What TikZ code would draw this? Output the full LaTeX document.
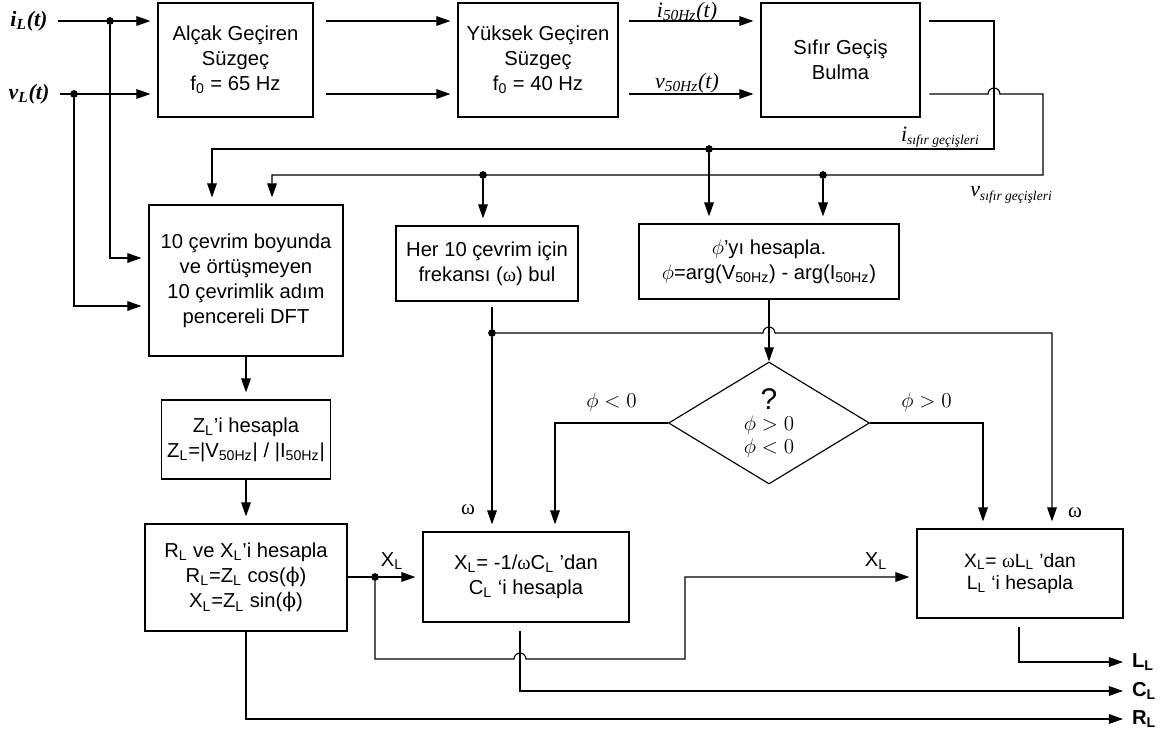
\documentclass[tikz,border=0pt]{standalone}
\usepackage{fontspec}
\setmainfont{Liberation Serif}
\setsansfont{Liberation Sans}
\newfontfamily\greekfnt{DejaVu Serif}
\usetikzlibrary{arrows.meta,shapes.geometric}
\tikzset{
  wire/.style={line width=0.65pt},
  blk/.style={draw, wire, align=center, inner sep=1pt,
    font=\sffamily\fontsize{11.5}{14.3}\selectfont},
  arr/.style={wire, -{Triangle[length=8pt,width=5.5pt]}, shorten >=4pt},
  junc/.style={circle, fill, inner sep=0pt, minimum size=4.4pt},
  inlbl/.style={font=\bfseries\itshape\fontsize{12.5}{14}\selectfont, inner sep=1pt},
  sig/.style={font=\itshape\fontsize{12.5}{14}\selectfont, inner sep=1pt},
  xlbl/.style={font=\sffamily\fontsize{11.5}{13}\selectfont, inner sep=1pt},
  wlbl/.style={font=\fontsize{12}{13}\selectfont, inner sep=1pt},
  mlbl/.style={font=\fontsize{12}{13}\selectfont, inner sep=1pt},
  outlbl/.style={font=\sffamily\bfseries\fontsize{11.5}{13}\selectfont, inner sep=1pt},
}
\newcommand{\sbs}[1]{\textsubscript{#1}}
\newcommand{\omg}{{\rmfamily ω}}
\newcommand{\phup}{{\greekfnt ϕ}}

\begin{document}
\begin{tikzpicture}[x=0.02cm, y=-0.02cm]
\useasboundingbox (0,0) rectangle (1163,737);

\node[blk, minimum width=3.1cm, minimum height=2.28cm] (lpf) at (235.5,60) {Alçak Geçiren\\Süzgeç\\f\sbs{0} = 65 Hz};
\node[blk, minimum width=3.2cm, minimum height=2.28cm] (hpf) at (538,60) {Yüksek Geçiren\\Süzgeç\\f\sbs{0} = 40 Hz};
\node[blk, minimum width=3.18cm, minimum height=2.28cm] (zcd) at (840.5,60) {Sıfır Geçiş\\Bulma};
\node[blk, minimum width=3.88cm, minimum height=3.02cm] (dft) at (246,280.5) {10 çevrim boyunda\\ve örtüşmeyen\\10 çevrimlik adım\\pencereli DFT};
\node[blk, minimum width=3.64cm, minimum height=1.5cm] (freq) at (487,263.5) {Her 10 çevrim için\\frekansı (\omg) bul};
\node[blk, minimum width=5.2cm, minimum height=1.5cm] (phase) at (769,261.5) {$\phi$’yı hesapla.\\$\phi$=arg(V\sbs{50Hz}) - arg(I\sbs{50Hz})};
\node[draw, wire, diamond, shape aspect=1.65, minimum width=4.02cm, minimum height=2.44cm, inner sep=0pt, align=center, font=\fontsize{12}{13}\selectfont] (cmp) at (769,423) {{\sffamily\fontsize{17}{17}\selectfont ?}\\[-1pt]$\phi>0$\\$\phi<0$};
\node[blk, minimum width=3.38cm, minimum height=1.58cm] (zl) at (246,439.5) {Z\sbs{L}’i hesapla\\Z\sbs{L}=|V\sbs{50Hz}| / |I\sbs{50Hz}|};
\node[blk, minimum width=4.04cm, minimum height=2.14cm] (rx) at (246,577.5) {R\sbs{L} ve X\sbs{L}’i hesapla\\R\sbs{L}=Z\sbs{L} cos(\phup)\\X\sbs{L}=Z\sbs{L} sin(\phup)};
\node[blk, minimum width=4.12cm, minimum height=1.8cm] (cl) at (526,577) {X\sbs{L}= -1/\omg C\sbs{L} ’dan\\C\sbs{L} ‘i hesapla};
\node[blk, minimum width=4.12cm, minimum height=1.78cm, font=\sffamily\fontsize{11}{13}\selectfont] (ll) at (1020,573.5) {X\sbs{L}= \omg L\sbs{L} ’dan\\L\sbs{L} ‘i hesapla};

\node[inlbl] (iL) at (29,21) {i\sbs{L}(t)};
\node[inlbl] (vL) at (29,94) {v\sbs{L}(t)};
\draw[arr, shorten <=5pt] (iL) -- (lpf.west |- iL);
\draw[arr, shorten <=5pt] (vL) -- (lpf.west |- vL);
\node[junc] (ji) at (110,21) {};
\node[junc] (jv) at (74,94) {};
\draw[arr] (ji) |- (dft.west |- 0,258);
\draw[arr] (jv) |- (dft.west |- 0,306);

\draw[arr, shorten <=7pt] (lpf.east |- 0,21) -- (hpf.west |- 0,21);
\draw[arr, shorten <=7pt] (lpf.east |- 0,94) -- (hpf.west |- 0,94);
\draw[arr, shorten <=6pt] (hpf.east |- 0,21) -- (zcd.west |- 0,21);
\draw[arr, shorten <=6pt] (hpf.east |- 0,94) -- (zcd.west |- 0,94);
\node[sig] (i50) at (687,12) {i\sbs{50Hz}(t)};
\node[sig] (v50) at (687,83) {v\sbs{50Hz}(t)};

\coordinate (ibus) at (994,149);
\draw[arr, shorten <=5pt] (zcd.east |- 0,21) -| (ibus) -| (dft.north -| 212,0);
\draw[arr, shorten <=5pt] (zcd.east |- 0,94) -- (988,94) arc[start angle=180, end angle=0, radius=3.4pt] -- (1043,94) -- (1043,175) -| (dft.north -| 272,0);
\node[sig] (izl) at (940,137) {i\raisebox{-2pt}{\fontsize{7.7}{8}\selectfont sıfır geçişleri}};
\node[sig] (vzl) at (1011,195) {v\raisebox{-2pt}{\fontsize{7.7}{8}\selectfont sıfır geçişleri}};
\node[junc] (ja) at (709,149) {};
\node[junc] (jf) at (483,175) {};
\node[junc] (jp) at (823,175) {};
\draw[arr] (ja) -- (phase.north -| ja);
\draw[arr] (jf) -- (freq.north -| jf);
\draw[arr] (jp) -- (phase.north -| jp);

\node[junc] (jw) at (492,333) {};
\draw[wire, shorten <=3pt] (freq.south -| jw) -- (jw);
\draw[arr] (jw) -- (cl.north -| jw);
\draw[arr] (jw) -- (763,333) arc[start angle=180, end angle=0, radius=3.4pt] -- (1052,333) -- (ll.north -| 1052,0);
\node[wlbl] (w1) at (468,510) {ω};
\node[wlbl] (w2) at (1075,513) {ω};

\draw[arr, shorten >=0pt] (phase) -- (cmp);
\draw[arr] (cmp.west) -| node[pos=0.25, above=5pt, mlbl] (lneg) {$\phi<0$} (cl.north -| 555,0);
\draw[arr] (cmp.east) -| node[pos=0.25, above=5pt, mlbl] (lpos) {$\phi>0$} (ll.north -| 983,0);

\draw[arr] (dft) -- (zl);
\draw[arr] (zl) -- (rx);

\node[junc] (jx) at (375,577) {};
\draw[arr] (rx.east |- jx) -- (cl.west |- jx);
\draw[arr] (jx) -- (375,659) -- (514,659) arc[start angle=180, end angle=0, radius=3.4pt] -- (685,659) -- (685,577) -- (ll.west |- 0,577);
\node[xlbl] (xl1) at (392,561) {X\sbs{L}};
\node[xlbl] (xl2) at (876,561) {X\sbs{L}};

\node[outlbl, anchor=west] (oL) at (1130,662) {L\sbs{L}};
\node[outlbl, anchor=west] (oC) at (1130,691) {C\sbs{L}};
\node[outlbl, anchor=west] (oR) at (1130,719) {R\sbs{L}};
\draw[arr, shorten <=5pt] (ll.south -| 1019,0) |- (oL);
\draw[arr, shorten <=5pt] (cl.south -| 520,0) |- (oC);
\draw[arr] (rx) |- (oR);
\end{tikzpicture}
\end{document}
